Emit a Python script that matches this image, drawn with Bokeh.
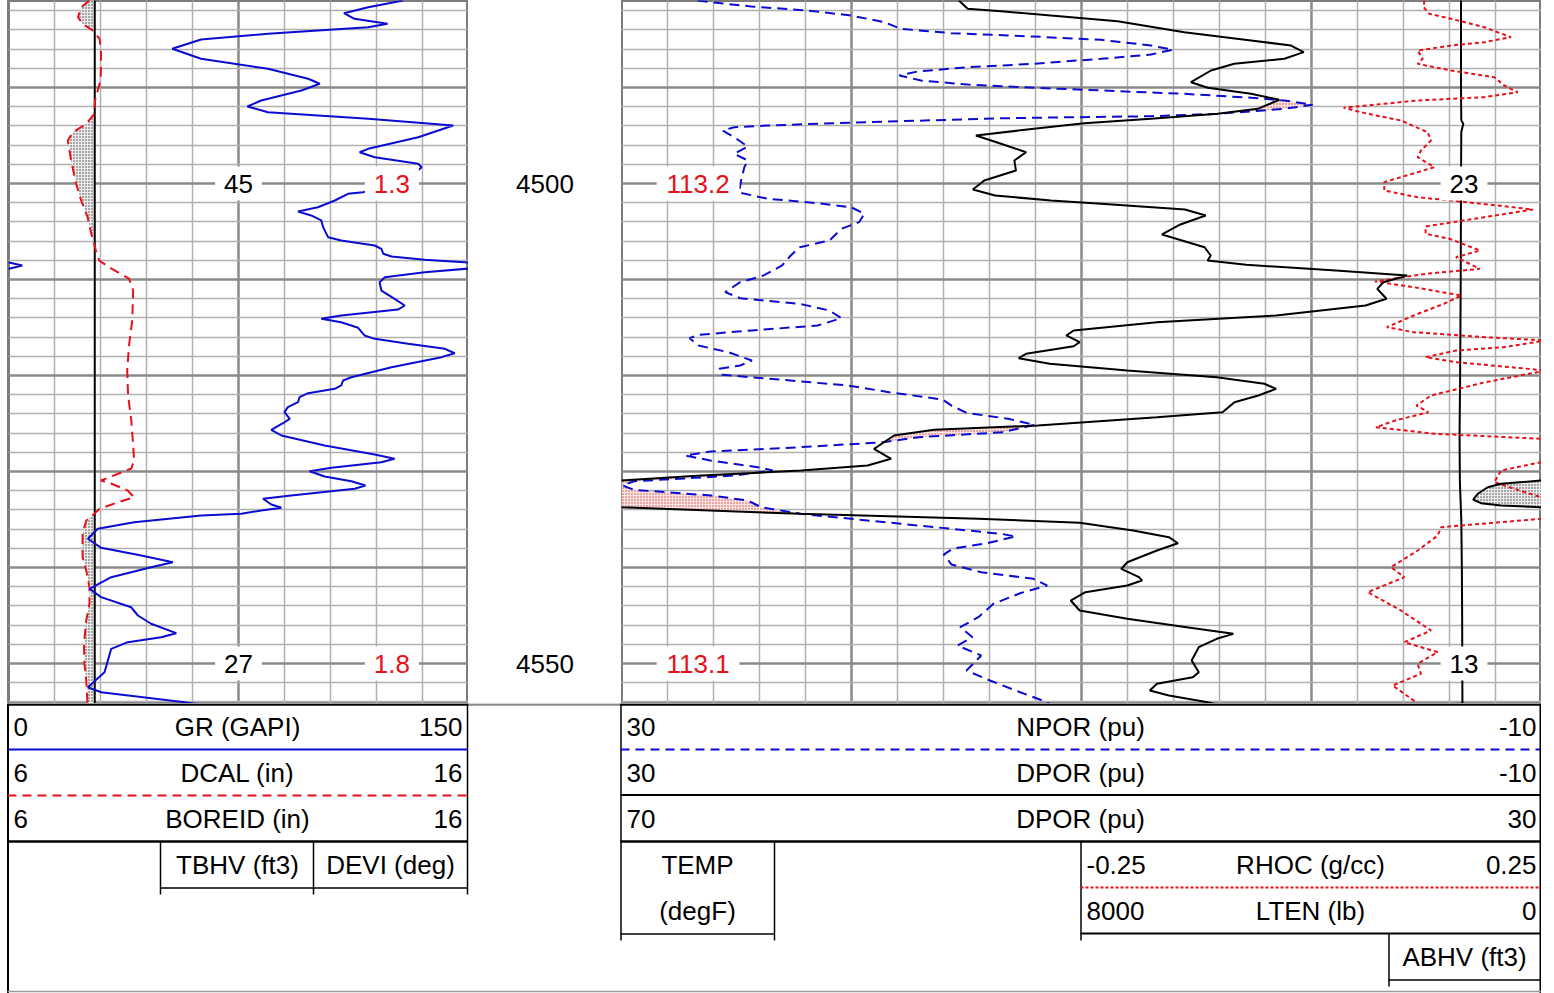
import numpy as np
from bokeh.plotting import figure
from bokeh.layouts import column, row
from bokeh.models import Range1d, FixedTicker
from bokeh.core.properties import value
from bokeh.embed import file_html
from bokeh.resources import INLINE

FONT = value("Liberation Sans")
FS = "26px"
BLUE = "#0b0bd2"
RED = "#e8101a"

# ---------------- data ----------------
gr_depth = [4480.94, 4481.64, 4482.26, 4482.84, 4483.36, 4483.72, 4484.41, 4485.00, 4485.97, 4487.01,
            4488.05, 4489.09, 4489.61, 4490.31, 4491.35, 4491.98, 4492.57, 4493.26, 4493.96, 4495.18,
            4496.39, 4496.74, 4497.26, 4497.95, 4498.30, 4499.69, 4500.91, 4501.07, 4501.77, 4502.47,
            4502.92, 4503.33, 4503.85, 4504.55, 4505.59, 4505.94, 4506.46, 4506.80, 4507.32, 4507.60,
            4507.95, 4508.25, 4508.55, 4508.85, 4509.24, 4509.76, 4510.28, 4511.15, 4512.01, 4512.71,
            4513.13, 4513.75, 4514.09, 4514.45, 4515.03, 4515.83, 4516.18, 4516.70, 4517.22, 4517.68,
            4518.09, 4519.14, 4520.18, 4520.52, 4521.04, 4521.39, 4521.84, 4522.26, 4522.78, 4523.30,
            4523.82, 4524.51, 4524.97, 4525.66, 4526.25, 4527.29, 4528.23, 4528.68, 4529.03, 4529.61,
            4529.97, 4530.52, 4531.01, 4531.46, 4531.80, 4532.50, 4532.84, 4533.44, 4533.78, 4534.06,
            4534.41, 4534.58, 4535.28, 4535.97, 4537.01, 4537.95, 4538.75, 4539.45, 4539.97, 4541.01,
            4542.22, 4543.09, 4544.14, 4545.00, 4545.86, 4546.84, 4547.26, 4547.78, 4548.47, 4549.69,
            4550.91, 4552.47, 4552.99, 4554.03, 4554.30]
gr_val = [128.7, 117.3, 109.4, 112.8, 123.6, 117.3, 84.6, 62.8, 53.4, 62.8,
          84.6, 97.7, 101.5, 95.5, 82.4, 77.9, 84.6, 117.3, 145.0, 133.6,
          117.3, 114.5, 119.4, 133.6, 134.7, 129.8, 115.6, 110.7, 106.4, 100.9,
          94.4, 98.7, 102.0, 102.6, 104.2, 108.5, 119.4, 121.6, 122.2, 124.9,
          135.7, 150.5, 154.5, 150.5, 135.7, 122.7, 121.0, 121.6, 125.9, 129.2,
          127.0, 108.5, 102.0, 108.5, 114.0, 116.1, 119.4, 130.3, 142.3, 145.5,
          141.2, 124.9, 111.8, 109.1, 108.5, 106.4, 97.7, 94.9, 94.4, 91.1,
          90.0, 91.7, 89.5, 85.7, 89.0, 103.1, 119.4, 125.9, 121.6, 105.3,
          98.2, 103.1, 111.8, 116.4, 112.9, 92.2, 83.0, 85.7, 89.0, 82.4,
          75.9, 62.8, 41.0, 29.1, 25.9, 30.2, 43.3, 53.6, 46.5, 33.5,
          26.4, 30.2, 40.0, 42.2, 46.5, 54.7, 49.8, 38.9, 33.5, 32.4,
          31.3, 25.9, 30.2, 57.4, 63.0]

dcal_depth = [4480.94, 4481.64, 4482.68, 4483.36, 4484.06, 4484.93, 4486.15, 4487.89, 4489.27, 4490.31,
              4491.35, 4492.71, 4493.78, 4494.66, 4495.52, 4497.60, 4500.03, 4501.77, 4503.51, 4505.24,
              4506.98, 4508.02, 4508.85, 4509.90, 4511.15, 4514.27, 4516.88, 4519.48, 4522.08, 4524.69,
              4527.29, 4528.85, 4529.69, 4530.94, 4531.25, 4531.98, 4532.68, 4533.20, 4533.89, 4534.38,
              4535.10, 4536.46, 4538.93, 4540.31, 4542.05, 4543.78, 4545.52, 4547.95, 4550.03, 4551.77,
              4554.30]
dcal_val = [7.76, 7.58, 7.51, 7.61, 7.83, 7.98, 8.01, 8.01, 8.00, 7.94,
            7.88, 7.87, 7.69, 7.40, 7.29, 7.36, 7.47, 7.58, 7.72, 7.80,
            7.90, 7.97, 8.23, 8.62, 8.71, 8.69, 8.62, 8.58, 8.60, 8.67,
            8.71, 8.73, 8.67, 8.01, 8.23, 8.59, 8.73, 8.38, 7.98, 7.87,
            7.69, 7.61, 7.61, 7.69, 7.76, 7.76, 7.69, 7.64, 7.65, 7.69,
            7.72]

boreid_depth = [4480.90, 4554.40]
boreid_val = [7.875, 7.875]

npor_depth = [4480.94, 4481.11, 4481.56, 4481.98, 4482.50, 4483.20, 4483.89, 4484.34, 4484.69, 4485.03,
              4485.63, 4486.07, 4486.56, 4487.01, 4487.53, 4487.89, 4488.33, 4488.75, 4489.27, 4489.69,
              4490.03, 4490.31, 4490.66, 4491.07, 4491.35, 4491.80, 4492.22, 4492.74, 4492.99, 4493.13,
              4493.21, 4493.51, 4493.72, 4493.96, 4494.14, 4494.48, 4495.18, 4496.15, 4496.91, 4497.60,
              4498.30, 4499.69, 4500.94, 4501.59, 4502.05, 4502.47, 4503.16, 4504.03, 4504.72, 4505.94,
              4506.64, 4507.50, 4508.54, 4509.58, 4510.28, 4511.32, 4511.95, 4512.53, 4513.23, 4514.03,
              4514.79, 4515.31, 4515.76, 4516.11, 4516.88, 4517.57, 4518.44, 4518.96, 4519.30, 4519.93,
              4520.34, 4521.04, 4521.74, 4522.50, 4523.13, 4523.89, 4524.51, 4525.14, 4525.91, 4526.43,
              4526.95, 4527.47, 4527.92, 4528.33, 4528.85, 4529.55, 4529.90, 4530.42, 4530.73, 4531.01,
              4531.46, 4531.91, 4532.16, 4532.50, 4533.02, 4533.72, 4534.41, 4534.93, 4535.45, 4535.97,
              4536.49, 4536.77, 4537.53, 4538.02, 4538.65, 4539.69, 4540.49, 4541.18, 4541.88, 4542.66,
              4543.78, 4545.18, 4546.22, 4547.26, 4548.13, 4549.17, 4550.73, 4551.77, 4552.99, 4554.03,
              4554.40]
npor_val = [26.69, 26.11, 24.37, 21.90, 20.02, 18.57, 17.85, 15.67, 12.07, 9.15,
            6.98, 6.03, 6.98, 9.15, 12.07, 14.95, 17.12, 17.92, 16.98, 14.95,
            12.07, 9.15, 5.53, 2.63, 1.18, -0.05, 1.18, 4.08, 6.98, 11.33,
            13.50, 17.85, 20.75, 23.64, 25.10, 25.60, 25.10, 24.51, 25.10, 24.51,
            24.66, 24.80, 24.89, 23.64, 21.47, 20.02, 19.44, 19.67, 20.44, 20.96,
            22.25, 22.64, 23.02, 23.82, 24.84, 25.49, 24.84, 22.25, 20.96, 20.44,
            21.47, 24.33, 26.65, 27.04, 26.65, 25.36, 24.33, 24.84, 25.75, 25.62,
            23.55, 20.18, 18.36, 16.04, 15.65, 15.00, 13.19, 12.03, 13.45, 17.07,
            18.63, 22.25, 26.14, 27.23, 26.14, 24.07, 23.42, 25.11, 27.28, 29.46,
            29.95, 29.46, 27.99, 26.11, 24.51, 23.93, 22.20, 20.02, 17.85, 15.67,
            13.50, 12.85, 14.23, 15.59, 15.99, 15.65, 14.36, 12.09, 11.49, 12.64,
            13.83, 14.49, 15.27, 14.74, 15.39, 14.36, 15.00, 13.98, 12.67, 11.51,
            11.25]

dpor_depth = [4480.94, 4481.80, 4482.05, 4482.50, 4483.09, 4484.24, 4485.10, 4485.63, 4486.32, 4487.01,
              4487.53, 4488.23, 4489.45, 4490.03, 4490.66, 4491.28, 4492.22, 4492.74, 4493.26, 4493.72,
              4494.30, 4495.00, 4495.86, 4496.74, 4497.60, 4498.65, 4499.69, 4500.63, 4501.25, 4501.77,
              4502.11, 4502.71, 4503.33, 4504.27, 4505.31, 4506.64, 4507.50, 4508.02, 4508.47, 4509.06,
              4509.58, 4510.28, 4510.97, 4512.01, 4512.71, 4513.75, 4514.45, 4515.31, 4515.83, 4516.53,
              4516.95, 4517.74, 4518.20, 4518.78, 4519.48, 4520.18, 4520.86, 4521.39, 4522.08, 4522.78,
              4523.82, 4524.34, 4525.21, 4525.66, 4526.25, 4526.95, 4527.64, 4528.68, 4529.38, 4529.90,
              4530.42, 4530.94, 4531.28, 4531.64, 4532.32, 4532.92, 4533.30, 4533.54, 4533.72, 4534.41,
              4534.93, 4535.34, 4536.15, 4536.84, 4537.47, 4538.23, 4539.45, 4540.14, 4541.01, 4541.35,
              4541.88, 4542.57, 4543.44, 4544.48, 4545.34, 4546.22, 4546.91, 4547.43, 4548.30, 4549.69,
              4550.91, 4551.43, 4552.11, 4552.81, 4553.33, 4554.03, 4554.40]
dpor_val = [15.33, 14.95, 13.50, 11.33, 8.43, 5.53, 2.63, 0.89, 0.34, 1.18,
            3.36, 4.37, 5.24, 4.51, 2.63, 1.40, 2.34, 4.08, 6.98, 9.88,
            12.07, 14.59, 13.50, 12.41, 12.92, 12.85, 14.23, 14.72, 13.76, 11.33,
            9.15, 5.50, 4.60, 5.70, 6.50, 4.65, 4.38, 4.52, 2.84, -1.06,
            -4.16, -3.13, -2.86, -3.26, -2.35, 1.54, 6.72, 10.34, 10.66, 10.08,
            10.34, 12.41, 12.73, 11.38, 8.01, 4.12, 2.05, 1.54, 2.31, 3.35,
            3.87, 6.72, 11.90, 16.41, 18.15, 18.59, 19.02, 18.28, 19.30, 22.20,
            26.54, 30.00, 31.76, 32.34, 32.77, 32.97, 32.63, 31.76, 30.00, 22.25,
            14.49, 10.08, 7.76, 6.20, 5.81, 6.72, 8.01, 8.27, 7.50, 7.37,
            8.01, 9.83, 10.47, 10.08, 8.01, 5.43, 3.40, 4.12, 4.90, 5.21,
            4.90, 5.16, 6.72, 7.03, 6.20, 4.52, 3.90]

rhoc_depth = [4480.94, 4481.64, 4482.32, 4482.84, 4483.72, 4484.76, 4485.28, 4485.63, 4486.15, 4487.01,
              4487.53, 4488.23, 4488.93, 4489.79, 4490.49, 4491.01, 4491.35, 4492.11, 4492.74, 4493.44,
              4494.66, 4495.52, 4496.56, 4497.26, 4498.30, 4498.82, 4499.86, 4500.73, 4501.43, 4501.95,
              4502.71, 4503.51, 4504.48, 4505.24, 4505.76, 4506.98, 4507.68, 4508.89, 4509.41, 4510.21,
              4510.80, 4511.67, 4512.53, 4513.75, 4514.97, 4515.49, 4516.01, 4516.35, 4517.05, 4517.40,
              4518.09, 4518.61, 4519.48, 4520.70, 4522.08, 4523.13, 4523.82, 4524.69, 4525.39, 4526.07,
              4526.59, 4527.81, 4529.03, 4529.90, 4531.11, 4531.80, 4532.68, 4533.75, 4534.93, 4535.28,
              4535.80, 4536.67, 4538.23, 4539.97, 4541.01, 4542.57, 4544.48, 4546.56, 4547.78, 4548.82,
              4550.03, 4551.07, 4552.29, 4554.03]
rhoc_val = [0.1226, 0.1220, 0.1280, 0.1516, 0.1878, 0.2168, 0.1878, 0.1516, 0.1154, 0.1209,
            0.1154, 0.1516, 0.1987, 0.2096, 0.2241, 0.1878, 0.1154, 0.0350, 0.0611, 0.0973,
            0.1263, 0.1299, 0.1190, 0.1154, 0.1335, 0.1154, 0.0791, 0.0791, 0.1154, 0.1698,
            0.2408, 0.1878, 0.124, 0.124, 0.150, 0.183, 0.157, 0.183, 0.124, 0.069,
            0.111, 0.163, 0.144, 0.111, 0.082, 0.111, 0.189, 0.255, 0.209, 0.157,
            0.124, 0.157, 0.255, 0.189, 0.130, 0.114, 0.127, 0.091, 0.0701, 0.1335,
            0.2495, 0.2603, 0.2495, 0.2060, 0.1987, 0.2204, 0.2495, 0.2658, 0.2495, 0.2060,
            0.1408, 0.1372, 0.1154, 0.0864, 0.1009, 0.0611, 0.0973, 0.1299, 0.1009, 0.1372,
            0.1154, 0.1190, 0.0883, 0.1136]

lten_depth = [4480.9, 4490.0, 4493.4, 4493.8, 4494.6, 4500.0, 4510.0, 4520.0, 4526.0, 4531.0,
              4535.0, 4540.0, 4545.0, 4554.4]
lten_val = [1400, 1400, 1395, 1360, 1395, 1400, 1405, 1415, 1425, 1420,
            1395, 1385, 1380, 1375]

ann_depth = [4500, 4550]
tbhv_val = [45, 27]
devi_val = [1.3, 1.8]
temp_val = [113.2, 113.1]
abhv_val = [23, 13]

LOG_H = 703
TOP = 4480.9375
BOT = TOP + LOG_H / 9.6


def make_track(width, xr, xmajor, xminor, left=0):
    p = figure(width=width + left, height=LOG_H, x_range=xr, y_range=Range1d(BOT, TOP),
               toolbar_location=None, output_backend="svg", min_border=0, min_border_left=left,
               x_axis_location=None, y_axis_location=None)
    p.outline_line_color = "#7c7c7c"
    p.outline_line_width = 3
    p.background_fill_color = "white"
    p.border_fill_color = "white"
    ymaj = list(range(4490, 4551, 10))
    ymin = [d for d in range(4482, 4555, 2) if d % 10]
    for g, maj, mnr in ((p.xgrid, xmajor, xminor), (p.ygrid, ymaj, ymin)):
        g.ticker = FixedTicker(ticks=maj, minor_ticks=mnr)
        g.grid_line_color = "#8a8a8a"
        g.grid_line_width = 2.5
        g.minor_grid_line_color = "#b0b0b0"
        g.minor_grid_line_width = 1.5
    return p


def add_labels(p, x, depths, vals, color, rname="default"):
    texts = [str(v) for v in vals]
    widths = [sum(14.4 if c.isdigit() else 7.2 for c in t) + 18 for t in texts]
    xs = [x] * len(texts)
    p.rect(x=xs, y=depths, width=widths, height=34, width_units="screen", height_units="screen",
           fill_color="white", line_color=None, x_range_name=rname)
    p.text(x=xs, y=depths, text=texts, text_color=color, text_font=FONT, text_font_size=FS,
           text_align="center", text_baseline="middle", x_range_name=rname)


fine = np.linspace(4480.9, 4554.4, 4000)

# ---------------- track 1 ----------------
t1 = make_track(460, Range1d(0, 150), [75], [15, 30, 45, 60, 90, 105, 120, 135], left=8)
t1.extra_x_ranges = {"cal": Range1d(6, 16), "grbk": Range1d(150, 300)}
dc = np.interp(fine, dcal_depth, dcal_val)
bi = np.interp(fine, boreid_depth, boreid_val)
t1.harea(x1=bi, x2=np.minimum(dc, bi), y=fine, x_range_name="cal",
         fill_color="#ebebeb", fill_alpha=1.0, hatch_pattern="dot", hatch_color="#404040",
         hatch_scale=3, hatch_weight=1)
t1.line(boreid_val, boreid_depth, x_range_name="cal", line_color="black", line_width=2)
t1.line(dcal_val, dcal_depth, x_range_name="cal", line_color=RED, line_width=2, line_dash="10 6")
t1.line(gr_val, gr_depth, line_color=BLUE, line_width=2)
t1.line(gr_val, gr_depth, x_range_name="grbk", line_color=BLUE, line_width=2)
add_labels(t1, 75, ann_depth, tbhv_val, "black")
add_labels(t1, 125, ann_depth, devi_val, RED)

# ---------------- depth track ----------------
dep = figure(width=153, height=LOG_H, x_range=Range1d(0, 1), y_range=Range1d(BOT, TOP),
             toolbar_location=None, output_backend="svg", min_border=0,
             x_axis_location=None, y_axis_location=None)
dep.outline_line_color = None
dep.grid.visible = False
dep.text(x=[0.5] * len(ann_depth), y=ann_depth, text=[str(d) for d in ann_depth], text_color="black",
         text_font=FONT, text_font_size=FS, text_align="center", text_baseline="middle")

# ---------------- track 2 ----------------
t2 = make_track(920, Range1d(30, -10), [20, 10, 0],
                [v for v in range(-8, 30, 2) if v % 10])
t2.extra_x_ranges = {"bk": Range1d(70, 30), "rhoc": Range1d(-0.75, 0.25), "lten": Range1d(16000, 0)}
npi = np.minimum(np.interp(fine, npor_depth, npor_val), 30)
dpi = np.interp(fine, dpor_depth, dpor_val)
dpc = np.minimum(dpi, 30)
t2.harea(x1=dpc, x2=np.where(npi < dpc, npi, dpc), y=fine,
         fill_color="#f9e4e4", fill_alpha=1.0, hatch_pattern="dot", hatch_color="#d04040",
         hatch_scale=3, hatch_weight=1)
t2.harea(x1=np.maximum(dpi, 30), x2=np.full_like(fine, 30), y=fine, x_range_name="bk",
         fill_color="#ebebeb", fill_alpha=1.0, hatch_pattern="dot", hatch_color="#404040",
         hatch_scale=3, hatch_weight=1)
t2.line(lten_val, lten_depth, x_range_name="lten", line_color="black", line_width=2)
t2.line(rhoc_val, rhoc_depth, x_range_name="rhoc", line_color=RED, line_width=2, line_dash="4 3")
t2.line(npor_val, npor_depth, line_color=BLUE, line_width=2, line_dash="10 6")
t2.line(dpor_val, dpor_depth, line_color="black", line_width=2)
t2.line(dpor_val, dpor_depth, x_range_name="bk", line_color="black", line_width=2)
add_labels(t2, 26.67, ann_depth, temp_val, RED)
add_labels(t2, -6.63, ann_depth, abhv_val, "black")

# ---------------- header ----------------
HW, HH = 1541, 290
hdr = figure(width=HW, height=HH, x_range=Range1d(0, HW), y_range=Range1d(HH, 0),
             toolbar_location=None, output_backend="svg", min_border=0,
             x_axis_location=None, y_axis_location=None)
hdr.outline_line_color = None
hdr.grid.visible = False


def seg(x0, y0, x1, y1, color="black", width=1.5, dash="solid"):
    hdr.segment(x0=[x0], y0=[y0 - 703], x1=[x1], y1=[y1 - 703],
                line_color=color, line_width=width, line_dash=dash)


seg(7, 704, 467, 704, width=2.5)
seg(467, 704, 620, 704, color="#8a8a8a", width=2.5)
seg(620, 704, 1541, 704, width=2.5)
seg(7.5, 703, 7.5, 993, width=2)
seg(467, 703, 467, 894)
seg(7, 749, 467, 749, color=BLUE, width=2)
seg(7, 795, 467, 795, color=RED, width=2, dash="9 6")
seg(7, 841, 467, 841, width=2.5)
seg(160, 841, 160, 894)
seg(313, 841, 313, 894)
seg(160, 887.5, 467, 887.5)
seg(620.5, 703, 620.5, 940)
seg(620, 749, 1541, 749, color=BLUE, width=2, dash="9 6")
seg(620, 794.5, 1541, 794.5, width=2)
seg(620, 841, 1541, 841, width=2.5)
seg(620, 933.5, 774, 933.5)
seg(774, 841, 774, 940)
seg(1080.5, 841, 1080.5, 940)
seg(1080, 887, 1541, 887, color=RED, width=2, dash="3 2")
seg(1080, 933, 1541, 933, width=2)
seg(1388.5, 933, 1388.5, 986)
seg(1388, 979.5, 1541, 979.5)
seg(1540, 703, 1540, 993, width=2)
seg(7, 991, 1541, 991, color="#9a9a9a", width=1.5)

htexts = [
    (13, 726, "0", "left"), (237, 726, "GR (GAPI)", "center"), (462, 726, "150", "right"),
    (13, 772, "6", "left"), (237, 772, "DCAL (in)", "center"), (462, 772, "16", "right"),
    (13, 818, "6", "left"), (237, 818, "BOREID (in)", "center"), (462, 818, "16", "right"),
    (237, 864, "TBHV (ft3)", "center"), (390, 864, "DEVI (deg)", "center"),
    (626, 726, "30", "left"), (1080, 726, "NPOR (pu)", "center"), (1536, 726, "-10", "right"),
    (626, 772, "30", "left"), (1080, 772, "DPOR (pu)", "center"), (1536, 772, "-10", "right"),
    (626, 818, "70", "left"), (1080, 818, "DPOR (pu)", "center"), (1536, 818, "30", "right"),
    (697, 864, "TEMP", "center"), (697, 910, "(degF)", "center"),
    (1086, 864, "-0.25", "left"), (1310, 864, "RHOC (g/cc)", "center"), (1536, 864, "0.25", "right"),
    (1086, 910, "8000", "left"), (1310, 910, "LTEN (lb)", "center"), (1536, 910, "0", "right"),
    (1464, 956, "ABHV (ft3)", "center"),
]
for align in ("left", "center", "right"):
    sel = [t for t in htexts if t[3] == align]
    hdr.text(x=[t[0] for t in sel], y=[t[1] - 703 for t in sel], text=[t[2] for t in sel],
             text_color="black", text_font=FONT, text_font_size=FS, text_align=align,
             text_baseline="middle")

layout = column(row(t1, dep, t2, spacing=0), hdr, spacing=0)
open("out.html", "w").write(file_html(layout, INLINE))
